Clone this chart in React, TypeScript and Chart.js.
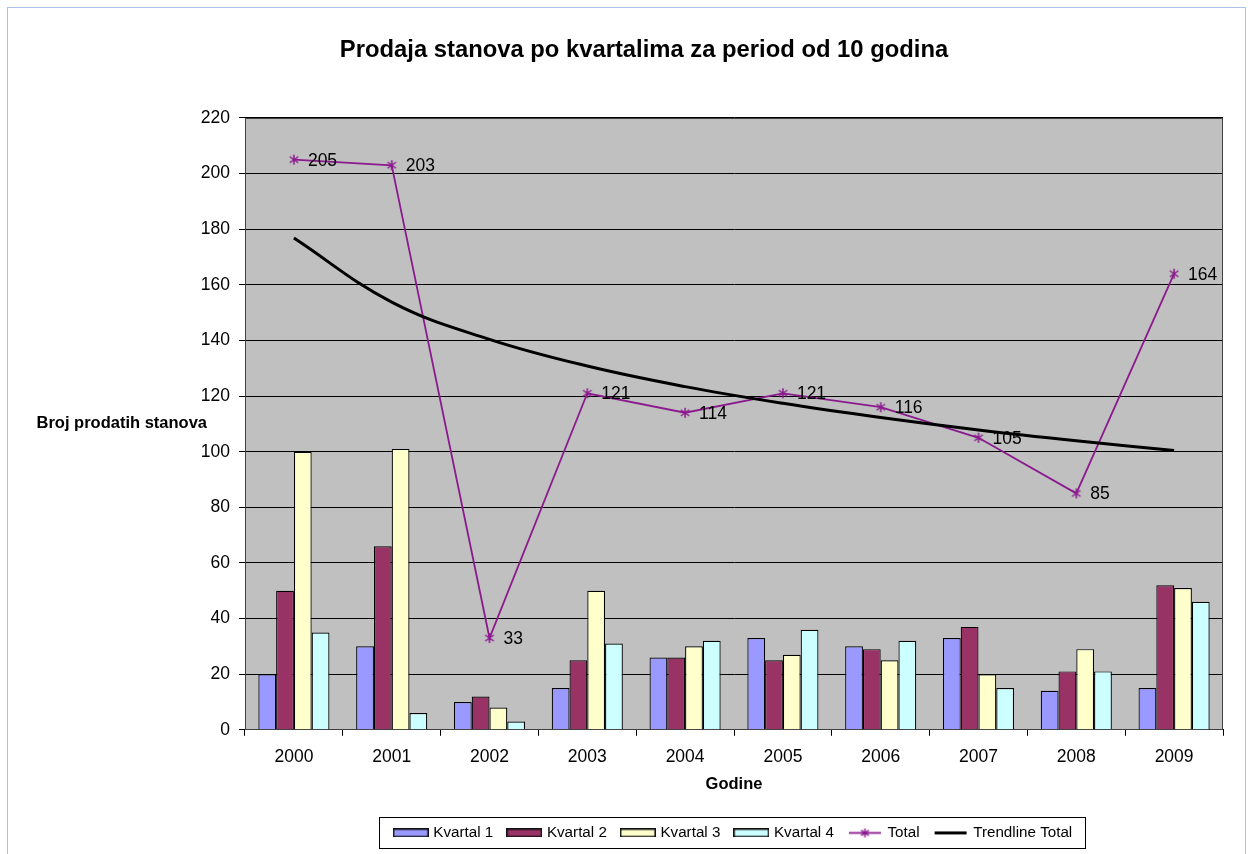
import React, { useEffect, useRef } from "react";
import { Chart, registerables } from "chart.js";

Chart.register(...registerables);

const FONT = '"Liberation Sans", Arial, sans-serif';

const years = ["2000", "2001", "2002", "2003", "2004", "2005", "2006", "2007", "2008", "2009"];
const kvartal1 = [20, 30, 10, 15, 26, 33, 30, 33, 14, 15];
const kvartal2 = [50, 66, 12, 25, 26, 25, 29, 37, 21, 52];
const kvartal3 = [100, 101, 8, 50, 30, 27, 25, 20, 29, 51];
const kvartal4 = [35, 6, 3, 31, 32, 36, 32, 15, 21, 46];
const total = [205, 203, 33, 121, 114, 121, 116, 105, 85, 164];
const trendlineTotal = [176.8, 153.8, 140.4, 130.8, 123.4, 117.4, 112.3, 107.8, 103.9, 100.4];

const yMin = 0;
const yMax = 220;
const yStep = 20;

const titleText = "Prodaja stanova po kvartalima za period od 10 godina";
const yTitle = "Broj prodatih stanova";
const xTitle = "Godine";

const colK1 = "#9999FF";
const colK2 = "#993366";
const colK3 = "#FFFFCC";
const colK4 = "#CCFFFF";
const colTotal = "#8B1A8F";
const colTrend = "#000000";

function makeStar(size: number, color: string, lw: number) {
  const c = document.createElement("canvas");
  c.width = size;
  c.height = size;
  const g = c.getContext("2d")!;
  g.strokeStyle = color;
  g.lineWidth = lw;
  const m = size / 2;
  const r = size / 2 - 1;
  g.beginPath();
  g.moveTo(m, m - r);
  g.lineTo(m, m + r);
  g.moveTo(m - r * 0.85, m - r * 0.6);
  g.lineTo(m + r * 0.85, m + r * 0.6);
  g.moveTo(m + r * 0.85, m - r * 0.6);
  g.lineTo(m - r * 0.85, m + r * 0.6);
  g.stroke();
  return c;
}

function makeBoxIcon(fill: string) {
  const c = document.createElement("canvas");
  c.width = 36;
  c.height = 9;
  const g = c.getContext("2d")!;
  g.fillStyle = fill;
  g.fillRect(1, 1, 34, 7);
  g.strokeStyle = "#111";
  g.lineWidth = 1.5;
  g.strokeRect(0.75, 0.75, 34.5, 7.5);
  return c;
}

function makeLineIcon(color: string, lw: number, star: HTMLCanvasElement | null) {
  const c = document.createElement("canvas");
  c.width = 36;
  c.height = 11;
  const g = c.getContext("2d")!;
  g.strokeStyle = color;
  g.lineWidth = lw;
  g.beginPath();
  g.moveTo(2, 5.5);
  g.lineTo(34, 5.5);
  g.stroke();
  if (star) g.drawImage(star, 18 - star.width / 2, 5.5 - star.height / 2);
  return c;
}

export default function App() {
  const ref = useRef<HTMLCanvasElement | null>(null);

  useEffect(() => {
    if (!ref.current) return;
    Chart.defaults.font.family = FONT;
    Chart.defaults.color = "#000";

    const star = makeStar(12, colTotal, 1.5);
    const icons = [
      makeBoxIcon(colK1),
      makeBoxIcon(colK2),
      makeBoxIcon(colK3),
      makeBoxIcon(colK4),
      makeLineIcon(colTotal, 1.8, makeStar(11, colTotal, 1.5)),
      makeLineIcon(colTrend, 3, null),
    ];

    const decor = {
      id: "decor",
      beforeDraw(chart: any) {
        const { ctx, chartArea: a } = chart;
        ctx.save();
        ctx.fillStyle = "#C0C0C0";
        ctx.fillRect(a.left, a.top, a.right - a.left, a.bottom - a.top);
        ctx.restore();
      },
      beforeDatasetsDraw(chart: any) {
        const { ctx, chartArea: a } = chart;
        ctx.save();
        ctx.strokeStyle = "#404040";
        ctx.lineWidth = 1;
        ctx.strokeRect(Math.round(a.left) + 0.5, Math.round(a.top) + 0.5, Math.round(a.right - a.left) - 1, Math.round(a.bottom - a.top) - 1);
        ctx.restore();
      },
      afterDatasetsDraw(chart: any) {
        const { ctx } = chart;
        const idx = chart.data.datasets.findIndex((d: any) => d.label === "Total");
        const meta = chart.getDatasetMeta(idx);
        ctx.save();
        ctx.font = `17.5px ${FONT}`;
        ctx.fillStyle = "#000";
        ctx.textAlign = "left";
        ctx.textBaseline = "middle";
        meta.data.forEach((pt: any, i: number) => {
          ctx.fillText(String(total[i]), pt.x + 14, pt.y + 1);
        });
        ctx.restore();
      },
      afterDraw(chart: any) {
        const { ctx, chartArea: a } = chart;
        ctx.save();
        ctx.font = `bold 16.5px ${FONT}`;
        ctx.fillStyle = "#000";
        ctx.textAlign = "right";
        ctx.textBaseline = "middle";
        ctx.fillText(yTitle, a.left - 38, (a.top + a.bottom) / 2);
        const hb = chart.legend?.legendHitBoxes || [];
        if (hb.length) {
          const l = Math.min(...hb.map((h: any) => h.left)) - 17;
          const r = Math.max(...hb.map((h: any) => h.left + h.width)) + 13;
          const cy = hb[0].top + hb[0].height / 2;
          ctx.strokeStyle = "#000";
          ctx.lineWidth = 1;
          ctx.strokeRect(Math.round(l) + 0.5, Math.round(cy - 15.5) + 0.5, Math.round(r - l), 31);
        }
        ctx.restore();
      },
    };

    const chart = new Chart(ref.current, {
      type: "bar",
      data: {
        labels: years,
        datasets: [
          { type: "bar", label: "Kvartal 1", data: kvartal1, backgroundColor: colK1, borderColor: "#000", borderWidth: 1.2, order: 2 },
          { type: "bar", label: "Kvartal 2", data: kvartal2, backgroundColor: colK2, borderColor: "#000", borderWidth: 1.2, order: 2 },
          { type: "bar", label: "Kvartal 3", data: kvartal3, backgroundColor: colK3, borderColor: "#000", borderWidth: 1.2, order: 2 },
          { type: "bar", label: "Kvartal 4", data: kvartal4, backgroundColor: colK4, borderColor: "#000", borderWidth: 1.2, order: 2 },
          {
            type: "line",
            label: "Total",
            data: total,
            borderColor: colTotal,
            backgroundColor: colTotal,
            borderWidth: 1.8,
            pointStyle: star as any,
            pointRadius: 5,
            tension: 0,
            fill: false,
            order: 1,
          },
          {
            type: "line",
            label: "Trendline Total",
            data: trendlineTotal,
            borderColor: colTrend,
            backgroundColor: colTrend,
            borderWidth: 3,
            pointRadius: 0,
            tension: 0.4,
            fill: false,
            order: 0,
          },
        ] as any,
      },
      options: {
        responsive: false,
        animation: false,
        devicePixelRatio: 1,
        datasets: { bar: { categoryPercentage: 0.727, barPercentage: 1 } } as any,
        layout: { padding: { left: 57, right: 22, top: 0, bottom: 3.5 } },
        plugins: {
          title: {
            display: true,
            text: titleText,
            color: "#000",
            font: { size: 23.8, weight: "bold", family: FONT },
            padding: { top: 28.2, bottom: 53.2 },
          },
          legend: {
            display: true,
            position: "bottom",
            fullSize: false,
            labels: {
              usePointStyle: true,
              pointStyleWidth: 30,
              padding: 16,
              color: "#000",
              font: { size: 15.2, family: FONT },
              generateLabels: (c: any) =>
                c.data.datasets.map((ds: any, i: number) => ({
                  text: ds.label,
                  fillStyle: ds.backgroundColor,
                  strokeStyle: ds.borderColor,
                  lineWidth: 0,
                  pointStyle: icons[i],
                  hidden: false,
                  datasetIndex: i,
                  fontColor: "#000",
                })),
            },
          },
          tooltip: { enabled: false },
        },
        scales: {
          x: {
            grid: { display: true, drawOnChartArea: false, drawTicks: true, tickLength: 6, color: "#000", offset: true },
            border: { display: true, color: "#000", width: 1 },
            ticks: { color: "#000", font: { size: 17.5, family: FONT }, padding: 10.8, maxRotation: 0, autoSkip: false },
            title: {
              display: true,
              text: xTitle,
              color: "#000",
              font: { size: 16.5, weight: "bold", family: FONT },
              padding: { top: -3.5, bottom: 14.6 },
            },
          },
          y: {
            min: yMin,
            max: yMax,
            ticks: { stepSize: yStep, color: "#000", font: { size: 17.5, family: FONT }, padding: 9 },
            grid: { color: "#000", lineWidth: 1, tickLength: 6, drawTicks: true },
            border: { display: true, color: "#000", width: 1 },
            afterFit: (s: any) => {
              s.width = 180;
            },
          },
        },
      } as any,
      plugins: [decor],
    });

    return () => chart.destroy();
  }, []);

  return (
    <div
      style={{
        position: "fixed",
        left: 7,
        top: 7,
        width: 1237,
        height: 846,
        border: "1px solid #a9c4e8",
        background: "#fff",
      }}
    >
      <canvas ref={ref} width={1237} height={846} style={{ display: "block" }} />
    </div>
  );
}
